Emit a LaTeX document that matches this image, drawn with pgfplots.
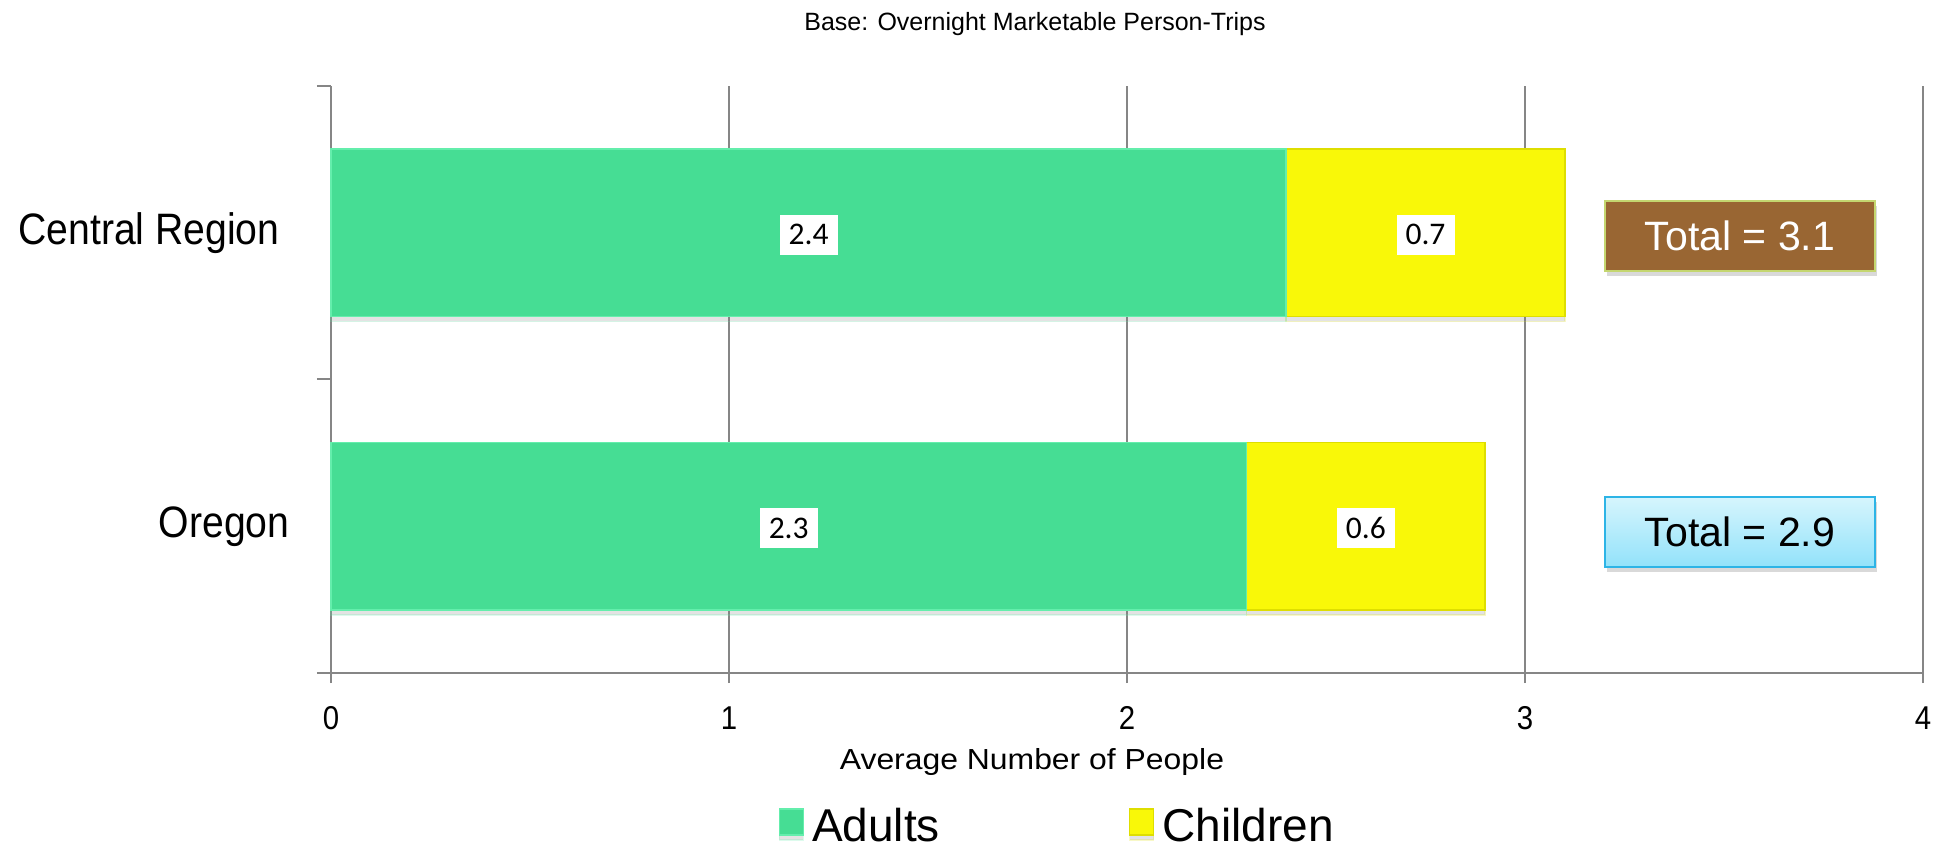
\documentclass[border=0pt]{standalone}
\usepackage{fontspec}
\setmainfont{Liberation Sans}
\newfontfamily\catfont[FakeStretch=0.89]{Liberation Sans}
\newfontfamily\wfont[FakeStretch=1.1]{Liberation Sans}
\newfontfamily\valfont{Carlito}
\usepackage{pgfplots}
\usepackage{pgfplotstable}
\pgfplotsset{compat=1.18}
\usetikzlibrary{shadows}

\definecolor{adultgreen}{RGB}{70,221,148}
\definecolor{adultedge}{RGB}{100,238,172}
\definecolor{childyellow}{RGB}{249,248,8}
\definecolor{childedge}{RGB}{222,222,0}
\definecolor{axisgray}{RGB}{134,134,134}
\definecolor{totalbrown}{RGB}{153,102,51}
\definecolor{totalbrownedge}{RGB}{196,214,112}
\definecolor{totalbluetop}{RGB}{214,245,253}
\definecolor{totalbluebot}{RGB}{146,226,250}
\definecolor{totalblueedge}{RGB}{45,180,230}

% average party size per overnight trip: 0 = Oregon, 1 = Central Region
\pgfplotstableread{
cat adults children
0   2.3    0.6
1   2.4    0.7
}\trips

\begin{document}
\begin{tikzpicture}
\useasboundingbox (-331bp,-177bp) rectangle (1605bp,673bp);
\begin{axis}[
  scale only axis, width=1592bp, height=587bp,
  xbar stacked, bar width=0.57,
  xmin=0, xmax=4, ymin=-0.5, ymax=1.5,
  clip=false,
  axis x line=bottom, axis y line=left,
  axis line style={-, draw=axisgray, line width=2bp},
  xtick={0,1,2,3,4},
  xmajorgrids, major grid style={draw=axisgray, line width=2bp},
  tick align=outside,
  xtick style={draw=axisgray, line width=2bp, /pgfplots/major tick length=10bp},
  ytick={0,1},
  yticklabels={Oregon, Central Region\hspace*{10bp}},
  minor ytick={-0.5,0.5,1.5},
  ytick style={draw=axisgray, line width=2bp,
    /pgfplots/major tick length=0bp, /pgfplots/minor tick length=14bp},
  yticklabel style={font=\catfont\fontsize{44bp}{50bp}\selectfont, anchor=east, inner sep=0pt, xshift=-37bp},
  xticklabel style={font=\catfont\fontsize{33bp}{38bp}\selectfont, anchor=north, inner sep=0pt, yshift=-29bp},
  /pgf/number format/assume math mode=true,
  title={Base: Overnight Marketable Person-Trips},
  every axis title/.style={at={(axis description cs:0.4422,1)}, anchor=base, yshift=55bp, font=\fontsize{25bp}{30bp}\selectfont},
  xlabel={Average Number of People},
  every axis x label/.style={at={(axis description cs:0.4403,0)}, anchor=base, yshift=-96bp, font=\wfont\fontsize{29bp}{34bp}\selectfont},
  legend columns=2,
  legend style={at={(axis description cs:0.4555,-0.259)}, anchor=center, draw=none, fill=none,
    inner sep=0pt, outer sep=0pt, font=\fontsize{46bp}{52bp}\selectfont,
    nodes={inner sep=0pt, text height=0.716em, text depth=0pt},
    /tikz/every odd column/.append style={column sep=8bp},
    /tikz/every even column/.append style={column sep=189bp}},
  legend image code/.code={\draw[#1] (0bp,3bp) rectangle (24bp,29bp);},
  point meta=explicit,
  nodes near coords={\pgfmathprintnumber[fixed,fixed zerofill,precision=1]{\pgfplotspointmeta}},
  every node near coord/.append style={fill=white, text=black,
    font=\valfont\fontsize{31.5bp}{36bp}\selectfont,
    minimum width=58bp, minimum height=40bp, inner sep=0pt},
]
\addplot[fill=adultgreen, draw=adultedge, line width=1.5bp,
  drop shadow={shadow xshift=0bp, shadow yshift=-5bp, opacity=0.22},
  every node near coord/.append style={anchor=center, yshift=-2bp}]
  table[x=adults, y=cat, meta=adults] {\trips};
\addlegendentry{Adults}
\addplot[fill=childyellow, draw=childedge, line width=1.5bp,
  drop shadow={shadow xshift=0bp, shadow yshift=-5bp, opacity=0.22},
  every node near coord/.append style={anchor=center, yshift=-2bp}]
  table[x=children, y=cat, meta=children] {\trips};
\addlegendentry{Children}

\node[fill=totalbrown, draw=totalbrownedge, line width=2bp,
  minimum width=270bp, minimum height=70bp, inner sep=0pt,
  text=white, font=\fontsize{41bp}{47bp}\selectfont,
  drop shadow={shadow xshift=2bp, shadow yshift=-5bp, opacity=0.3}]
  at (axis cs:3.54,0.99) {Total = 3.1};
\node[top color=totalbluetop, bottom color=totalbluebot, draw=totalblueedge, line width=2bp,
  minimum width=270bp, minimum height=70bp, inner sep=0pt,
  text=black, font=\fontsize{41bp}{47bp}\selectfont,
  drop shadow={shadow xshift=2bp, shadow yshift=-5bp, opacity=0.3}]
  at (axis cs:3.54,-0.02) {Total = 2.9};
\end{axis}
\end{tikzpicture}
\end{document}
